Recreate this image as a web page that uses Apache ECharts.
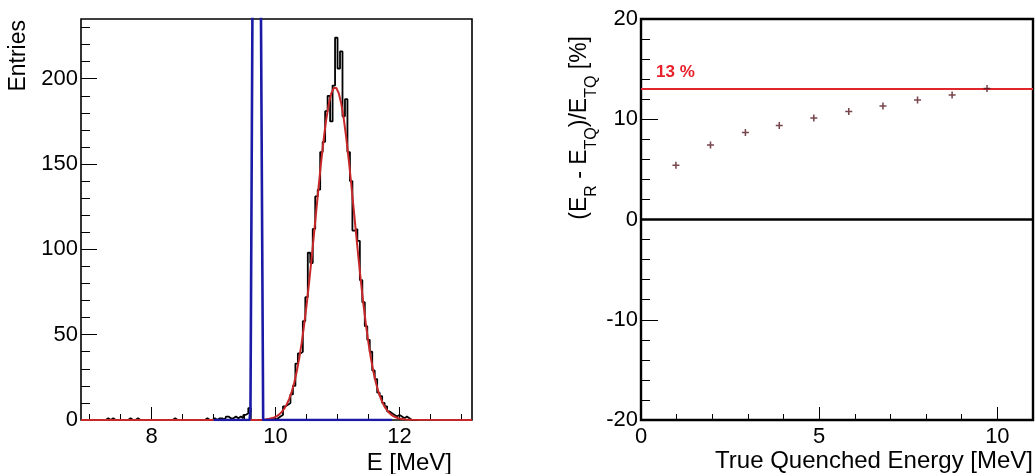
<!DOCTYPE html>
<html><head><meta charset="utf-8">
<script src="https://cdn.jsdelivr.net/npm/echarts@6/dist/echarts.min.js"></script>
<style>html,body{margin:0;padding:0;background:#fff}#c{width:1035px;height:474px}</style>
</head><body><div id="c"></div>
<script>
// ---- Left panel: reconstructed energy histogram ----
const histFirstCenter = 7.02;   // MeV, centre of first bin
const histBinWidth = 0.04;      // MeV
const histCounts = [
  0,0,0,0,0,0,0,1,0,1,0,0,0,0,0,0,1,0,0,1,0,0,0,0,0,
  0,0,0,0,0,0,0,0,0,1,0,0,0,0,0,0,0,0,0,0,0,0,1,0,0,
  1,0,1,1,0,2,1,1,2,1,2,1,3,4,7,0,0,0,0,0,0,0,0,1,0,
  1,2,3,8,9,10,15,20,33,39,40,58,72,98,92,112,131,135,157,163,181,190,175,196,224,
  206,216,178,188,157,140,111,112,105,82,69,55,47,40,29,24,16,14,10,8,5,4,3,2,3,
  2,1,2,1,0,0
];
// Gaussian fit curve
const fitX = [6.86,9.70,9.82,9.90,9.98,10.02,10.06,10.10,10.14,10.18,10.22,10.26,10.30,10.34,10.38,10.42,10.46,10.50,10.54,10.58,10.62,10.66,10.70,10.74,10.78,10.82,10.86,10.90,10.94,10.98,11.02,11.06,11.10,11.14,11.18,11.22,11.26,11.30,11.34,11.38,11.42,11.46,11.50,11.54,11.58,11.62,11.66,11.70,11.74,11.78,11.82,11.86,11.90,11.94,11.98,12.02,12.10,12.20,13.17];
const fitY = [0,0,0.2,0.7,1.5,2.3,3.3,4.7,6.6,9.1,12.4,16.5,21.7,28.1,35.8,44.9,55.4,67.2,80.2,94.2,108.9,123.9,138.7,152.8,165.6,176.7,185.4,191.5,194.6,194.6,191.5,185.4,176.7,165.6,152.8,138.7,123.9,108.9,94.2,80.2,67.2,55.4,44.9,35.8,28.1,21.7,16.5,12.4,9.1,6.6,4.7,3.3,2.3,1.6,1.0,0.7,0.35,0.15,0];
// True quenched energy (narrow peak, off scale)
const trueX = [9.0,9.58,9.595,9.635,9.755,9.80,11.88];
const trueY = [0,0,6,300,300,0,0];
const leftXLabels = [8,10,12];
const leftXMinor = [7,7.5,8.5,9,9.5,10.5,11,11.5,12.5,13];
const leftYLabels = [0,50,100,150,200];
const leftYMinor = [10,20,30,40,60,70,80,90,110,120,130,140,160,170,180,190,210,220,230];

// ---- Right panel: bias vs true quenched energy ----
const quenchedE = [0.98,1.95,2.93,3.88,4.85,5.83,6.79,7.76,8.73,9.71];
const biasPct   = [5.41,7.44,8.67,9.37,10.13,10.77,11.33,11.93,12.42,13.06];
const biasLimit = 13;
const rightXLabels = [0,5,10];
const rightXMinor = [1,2,3,4,6,7,8,9];
const rightYLabels = [-20,-10,0,10,20];
const rightYMinor = [-18,-16,-14,-12,-8,-6,-4,-2,2,4,6,8,12,14,16,18];

const FONT = '"Liberation Sans", Arial, Helvetica, sans-serif';
const histData = histCounts.map((c,i)=>[histFirstCenter + i*histBinWidth, c]);
histData.unshift([6.9,0]); histData.push([12.3,0]);
const fitData = fitX.map((x,i)=>[x, fitY[i]]);
const trueData = trueX.map((x,i)=>[x, trueY[i]]);
const ptData = quenchedE.map((x,i)=>[x, biasPct[i]]);

function majorAxis(gi, min, max, labels, tickLen, margin, extra) {
  return Object.assign({
    type:'value', gridIndex:gi, min:min, max:max,
    axisLine:{show:false, onZero:false}, splitLine:{show:false},
    axisTick:{show:true, inside:true, length:tickLen, customValues:labels, lineStyle:{color:'#000', width:1}},
    axisLabel:{show:true, customValues:labels, color:'#000', fontSize:22, fontFamily:FONT, margin:margin},
    nameMoveOverlap:false
  }, extra||{});
}
function minorAxis(gi, min, max, vals, tickLen, pos) {
  return {
    type:'value', gridIndex:gi, min:min, max:max, position:pos,
    axisLine:{show:false, onZero:false}, splitLine:{show:false}, axisLabel:{show:false},
    axisTick:{show:true, inside:true, length:tickLen, customValues:vals, lineStyle:{color:'#000', width:1}}
  };
}

const chart = echarts.init(document.getElementById('c'), null, {renderer:'canvas'});
chart.setOption({
  animation:false,
  backgroundColor:'#fff',
  grid:[
    {left:81, top:19, width:391, height:401, show:true, borderColor:'#000', borderWidth:1.6, backgroundColor:'transparent', containLabel:false, outerBoundsMode:'none'},
    {left:641, top:19, width:392, height:401, show:true, borderColor:'#000', borderWidth:2.4, backgroundColor:'transparent', containLabel:false, outerBoundsMode:'none'}
  ],
  xAxis:[
    majorAxis(0, 6.86, 13.17, leftXLabels, 13, 6, {position:'bottom', name:'E [MeV]', nameLocation:'end', nameGap:-20,
      nameTextStyle:{color:'#000', fontSize:24, fontFamily:FONT, align:'right', verticalAlign:'top', padding:[31,0,0,0]}}),
    minorAxis(0, 6.86, 13.17, leftXMinor, 6, 'bottom'),
    majorAxis(1, 0, 11, rightXLabels, 13, 6, {position:'bottom', name:'True Quenched Energy [MeV]', nameLocation:'end', nameGap:0,
      nameTextStyle:{color:'#000', fontSize:24, fontFamily:FONT, align:'right', verticalAlign:'top', padding:[29,0,0,0]}}),
    minorAxis(1, 0, 11, rightXMinor, 6, 'bottom')
  ],
  yAxis:[
    majorAxis(0, 0, 235, leftYLabels, 16, 3, {position:'left', name:'Entries', nameLocation:'end', nameGap:-1, nameRotate:90,
      nameTextStyle:{color:'#000', fontSize:23, fontFamily:FONT, align:'right', verticalAlign:'bottom', padding:[0,0,51,0]}}),
    minorAxis(0, 0, 235, leftYMinor, 9, 'left'),
    majorAxis(1, -20, 20, rightYLabels, 17, 3, {position:'left',
      name:'(E{sub|R} - E{sub|TQ})/E{sub|TQ} [%]', nameLocation:'end', nameGap:-17, nameRotate:90,
      nameTextStyle:{color:'#000', fontSize:23, fontFamily:FONT, align:'right', verticalAlign:'bottom', lineHeight:40, padding:[0,0,41,0],
        rich:{sub:{fontSize:16, fontFamily:FONT, color:'#000', lineHeight:14, verticalAlign:'bottom'}}}}),
    minorAxis(1, -20, 20, rightYMinor, 9, 'left')
  ],
  series:[
    {type:'line', xAxisIndex:0, yAxisIndex:0, data:histData, step:'middle', symbol:'none',
      lineStyle:{color:'#000', width:1.8}, z:2},
    {type:'line', xAxisIndex:0, yAxisIndex:0, data:fitData, symbol:'none', smooth:false,
      lineStyle:{color:'#c8282a', width:2}, z:3},
    {type:'line', xAxisIndex:0, yAxisIndex:0, data:trueData, symbol:'none',
      lineStyle:{color:'#1a1aa6', width:2.6}, z:4},
    {type:'scatter', xAxisIndex:2, yAxisIndex:2, data:ptData,
      symbol:'path://M3.9,0H6.1V3.9H10V6.1H6.1V10H3.9V6.1H0V3.9H3.9Z', symbolSize:7,
      itemStyle:{color:'#561820'}, z:5,
      markLine:{silent:true, symbol:'none', animation:false,
        data:[
          {yAxis:0, lineStyle:{color:'#000', width:2.5, type:'solid'}, label:{show:false}},
          {yAxis:biasLimit, lineStyle:{color:'#e0262b', width:2, type:'solid'},
            label:{show:true, formatter:'13 %', position:'insideStartTop', distance:[15,8],
              color:'#e8202a', fontSize:17, fontWeight:'bold', fontFamily:FONT}}
        ]}}
  ]
});
</script></body></html>
